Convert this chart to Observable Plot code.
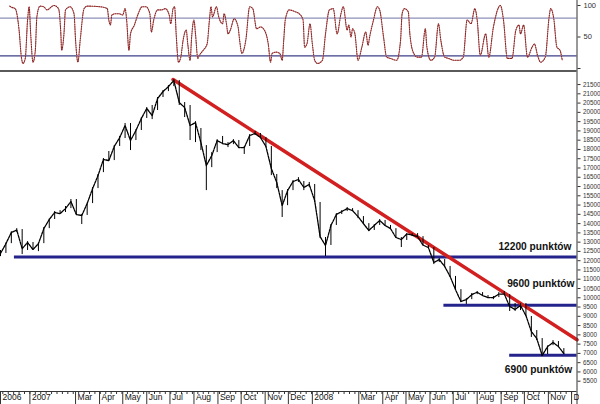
<!DOCTYPE html>
<html><head><meta charset="utf-8">
<script src="https://cdn.jsdelivr.net/npm/d3@7"></script>
<script src="https://cdn.jsdelivr.net/npm/@observablehq/plot@0.6"></script>
<style>
body{margin:0;background:#fff;}
#chart svg{display:block;}
</style></head><body>
<div id="chart"></div>
<script>
// ---- price (weekly samples) ----
const weekDates = ["2006-11-24","2006-12-01","2006-12-08","2006-12-15","2006-12-22","2006-12-29",
"2007-01-05","2007-01-12","2007-01-19","2007-01-26","2007-02-02","2007-02-09","2007-02-16","2007-02-23",
"2007-03-02","2007-03-09","2007-03-16","2007-03-23","2007-03-30","2007-04-06","2007-04-13","2007-04-20","2007-04-27",
"2007-05-04","2007-05-11","2007-05-18","2007-05-25","2007-06-01","2007-06-08","2007-06-15","2007-06-22","2007-06-29",
"2007-07-06","2007-07-13","2007-07-20","2007-07-27","2007-08-03","2007-08-10","2007-08-17","2007-08-24","2007-08-31",
"2007-09-07","2007-09-14","2007-09-21","2007-09-28","2007-10-05","2007-10-12","2007-10-19","2007-10-26",
"2007-11-02","2007-11-09","2007-11-16","2007-11-23","2007-11-30","2007-12-07","2007-12-14","2007-12-21","2007-12-28",
"2008-01-04","2008-01-11","2008-01-18","2008-01-25","2008-02-01","2008-02-08","2008-02-15","2008-02-22","2008-02-29",
"2008-03-07","2008-03-14","2008-03-21","2008-03-28","2008-04-04","2008-04-11","2008-04-18","2008-04-25",
"2008-05-02","2008-05-09","2008-05-16","2008-05-23","2008-05-30","2008-06-06","2008-06-13","2008-06-20","2008-06-27",
"2008-07-04","2008-07-11","2008-07-18","2008-07-25","2008-08-01","2008-08-08","2008-08-15","2008-08-22","2008-08-29",
"2008-09-05","2008-09-12","2008-09-19","2008-09-26","2008-10-03","2008-10-10","2008-10-17","2008-10-24","2008-10-31",
"2008-11-07","2008-11-14","2008-11-21"];
const closeValues = [12390,12920,13520,13650,12650,12980,12600,12920,13730,14220,14600,14540,14810,15190,
14490,14440,15080,15890,16590,17460,17400,18160,18640,19290,18480,19020,19670,20210,19830,20750,21120,21390,
21720,20530,20260,19290,19450,18370,17130,17670,18480,18320,18260,18480,18100,18100,18750,18860,18640,
18160,16970,16220,14970,15780,16270,16380,15950,16110,15240,13300,12820,13900,14490,14650,14810,14700,14380,
14000,13630,13900,14170,13900,13730,13250,13140,13440,13380,13300,12840,12710,11900,12060,11690,11150,
10440,9800,9900,10170,10300,10120,10010,10010,10200,10200,9530,9370,9580,9040,8180,7800,6890,7370,7590,7370,6990];
const highValues = [12550,12950,13560,13730,13680,13030,12980,12950,13790,14250,14650,14700,14920,15300,
15300,14490,15100,15950,16650,17510,17890,18210,18700,19400,19400,19070,19720,20260,20370,20800,21180,21450,
21770,21720,20530,20370,19500,19130,18210,17830,18530,18700,18370,18530,18480,18160,18800,18970,18860,
18640,18160,16650,15780,15840,16320,16480,16270,16220,16110,15140,13250,13950,14540,14700,14870,14810,14700,
14380,14000,13950,14220,14170,13900,13730,13250,13460,13460,13460,13300,12820,12710,12120,12060,11690,
11150,10440,9950,10230,10340,10280,10120,10070,10280,10340,10170,9690,9690,9690,8990,8230,7800,7400,7690,7640,7260];
const lowValues = [12220,12390,12920,13520,12330,12550,12550,12490,12920,13730,14220,14490,14600,14810,
14490,13950,14440,15080,15890,16750,17350,17400,18160,18590,17940,18480,19020,19670,19610,20100,20800,21120,
21390,20370,19720,18480,18370,17940,15780,17020,17830,18260,18100,18260,18050,17730,18160,18750,18590,
18100,16590,15890,14330,14970,15780,16220,15780,15950,15140,13200,12220,12820,13900,14490,14650,14650,14270,
13950,13570,13630,13900,13840,13680,13200,12710,13090,13300,13250,12820,12660,11790,11900,11630,11090,
10390,9740,9640,9900,10170,10070,9960,9900,10010,10120,9260,9260,9310,8990,7860,7690,6830,6940,7420,7320,6940];

// ---- oscillator (0-100) ----
const oscDates = ["2006-12-06","2006-12-07","2006-12-13","2006-12-18","2006-12-21","2006-12-23","2006-12-26","2006-12-29","2006-12-31",
"2007-01-02","2007-01-05","2007-01-08","2007-01-10","2007-01-14","2007-01-19","2007-01-23","2007-02-01","2007-02-07","2007-02-10","2007-02-11",
"2007-02-14","2007-02-16","2007-02-22","2007-02-27","2007-03-01","2007-03-04","2007-03-07","2007-03-12","2007-03-16","2007-04-02",
"2007-04-11","2007-04-13","2007-04-15","2007-04-17","2007-04-22","2007-04-26","2007-05-01","2007-05-04","2007-05-06","2007-05-09",
"2007-05-11","2007-05-16","2007-05-21","2007-05-26","2007-05-31","2007-06-05","2007-06-07","2007-06-10","2007-06-15","2007-06-20",
"2007-06-25","2007-06-30","2007-07-02","2007-07-05","2007-07-07","2007-07-09","2007-07-12","2007-07-15","2007-07-18","2007-07-22",
"2007-07-24","2007-07-27","2007-07-29","2007-08-01","2007-08-03","2007-08-06","2007-08-08","2007-08-13","2007-08-18","2007-08-21",
"2007-08-23","2007-08-25","2007-08-30","2007-09-02","2007-09-07","2007-09-09","2007-09-12","2007-09-14","2007-09-17","2007-09-22",
"2007-09-27","2007-09-29","2007-10-02","2007-10-07","2007-10-12","2007-10-16","2007-10-21","2007-10-26","2007-10-31","2007-11-05",
"2007-11-08","2007-11-10","2007-11-15","2007-11-20","2007-11-23","2007-11-25","2007-11-27","2007-12-02","2007-12-10","2007-12-15",
"2007-12-20","2007-12-22","2007-12-25","2007-12-29","2008-01-01","2008-01-04","2008-01-08","2008-01-14","2008-01-18","2008-01-23",
"2008-01-28","2008-02-02","2008-02-07","2008-02-10","2008-02-15","2008-02-17","2008-02-20","2008-02-22","2008-02-25","2008-02-29",
"2008-03-05","2008-03-10","2008-03-13","2008-03-15","2008-03-20","2008-03-25","2008-03-28","2008-04-02","2008-04-06","2008-04-11",
"2008-04-19","2008-04-24","2008-04-26","2008-04-29","2008-05-04","2008-05-06","2008-05-11","2008-05-16","2008-05-21","2008-05-26",
"2008-05-28","2008-06-02","2008-06-07","2008-06-12","2008-06-15","2008-06-20","2008-06-25","2008-07-02","2008-07-09","2008-07-14",
"2008-07-19","2008-07-24","2008-07-29","2008-08-01","2008-08-05","2008-08-12","2008-08-16","2008-08-22","2008-08-31","2008-09-04",
"2008-09-09","2008-09-15","2008-09-20","2008-09-24","2008-09-26","2008-09-30","2008-10-05","2008-10-11","2008-10-14","2008-10-18",
"2008-10-22","2008-10-28","2008-11-02","2008-11-04","2008-11-08","2008-11-12","2008-11-16","2008-11-19"];
const oscValues = [99,98,95,61,18,8,16,77,98,
55,10,29,82,99,98,93,100,95,55,29,
55,93,98,87,45,10,45,95,99,98,
95,77,69,85,87,87,85,95,77,29,
55,69,87,98,98,87,58,77,93,93,
95,85,71,95,98,55,10,18,45,61,
39,13,50,77,55,16,21,29,39,77,
98,82,98,82,71,87,71,55,61,79,
66,45,24,45,98,95,63,66,61,39,
10,24,26,24,13,45,77,93,90,87,
77,34,39,71,39,13,8,13,55,93,
95,55,87,98,61,69,50,63,55,13,
34,58,37,50,77,98,93,50,18,16,
13,45,87,95,90,55,24,18,18,63,
34,13,18,71,45,18,16,13,13,18,
77,71,95,77,21,55,18,66,100,77,
16,16,61,69,55,69,18,34,39,21,
10,18,82,95,79,34,29,13];
const oscLevels = [80, 20];
const oscTicks = [0, 50, 100];
const oscTickLabels = ["", "50", "100"];

// ---- support levels, trend line, labels ----
const levelValues = [12200, 9600, 6900];
const levelStarts = ["2006-12-12", "2008-06-19", "2008-09-12"];
const levelLabels = ["12200 punktów", "9600 punktów", "6900 punktów"];
const trendDates = ["2007-07-05", "2008-12-08"];
const trendValues = [21770, 7740];

// ---- axes ----
const xStart = "2006-11-24", xEnd = "2008-12-08";
const monthTickDates = ["2006-11-24","2007-01-01","2007-03-01","2007-04-01","2007-05-01","2007-06-01","2007-07-01",
"2007-08-01","2007-09-01","2007-10-01","2007-11-01","2007-12-01","2008-01-01","2008-03-01","2008-04-01","2008-05-01",
"2008-06-01","2008-07-01","2008-08-01","2008-09-01","2008-10-01","2008-11-01","2008-12-01"];
const monthTickLabels = ["2006","2007","Mar","Apr","May","Jun","Jul","Aug","Sep","Oct","Nov","Dec","2008",
"Mar","Apr","May","Jun","Jul","Aug","Sep","Oct","Nov","Dec"];
const priceTicks = [5500,6000,6500,7000,7500,8000,8500,9000,9500,10000,10500,11000,11500,12000,12500,13000,
13500,14000,14500,15000,15500,16000,16500,17000,17500,18000,18500,19000,19500,20000,20500,21000,21500];
const priceDomain = [4945, 22150];

// ---- build tables ----
const P = s => new Date(s);
const xDomain = [P(xStart), P(xEnd)];
const weekly = weekDates.map((d, i) => ({date: P(d), close: closeValues[i], high: highValues[i], low: lowValues[i]}));
const osc = oscDates.map((d, i) => ({date: P(d), v: oscValues[i]}));
const levels = levelValues.map((v, i) => ({value: v, start: P(levelStarts[i]), end: P(xEnd), label: levelLabels[i]}));
const trend = trendDates.map((d, i) => ({date: P(d), value: trendValues[i]}));
const months = monthTickDates.map((d, i) => ({date: P(d), label: monthTickLabels[i]}));
const oscTickMap = new Map(oscTicks.map((t, i) => [t, oscTickLabels[i]]));
const mondays = d3.utcMonday.range(xDomain[0], xDomain[1]);

const font = "'Liberation Sans', Arial, sans-serif";
const axisColor = "#333";

const oscPlot = Plot.plot({
  width: 600, height: 72, marginLeft: 0, marginRight: 23.5, marginTop: 5, marginBottom: 4,
  style: {fontFamily: font, background: "#fff"},
  x: {type: "utc", domain: xDomain, axis: null},
  y: {domain: [0, 100]},
  marks: [
    Plot.ruleY([oscLevels[0]], {stroke: "#8d90b8", strokeWidth: 1.3}),
    Plot.ruleY([oscLevels[1]], {stroke: "#3c3f88", strokeWidth: 1.3}),
    Plot.line(osc, {x: "date", y: "v", stroke: "#e7b3b3", strokeWidth: 1, curve: "monotone-x"}),
    Plot.line(osc, {x: "date", y: "v", stroke: "#8a2525", strokeWidth: 1.1, strokeDasharray: "1,1.3", curve: "monotone-x"}),
    Plot.ruleY([0], {dy: 2.5, stroke: "#5a5a5a", strokeWidth: 2}),
    Plot.ruleX([xDomain[1]], {stroke: axisColor, insetTop: -5, insetBottom: -4}),
    Plot.axisY(oscTicks, {anchor: "right", tickSize: 3, tickPadding: 3.5, fontSize: 7.5, label: null,
      tickFormat: d => oscTickMap.get(d) || null, stroke: axisColor, fill: "#333"})
  ]
});

const mainPlot = Plot.plot({
  width: 600, height: 332, marginLeft: 0, marginRight: 23.5, marginTop: 0, marginBottom: 13,
  style: {fontFamily: font, background: "#fff"},
  x: {type: "utc", domain: xDomain},
  y: {domain: priceDomain},
  marks: [
    Plot.ruleY(levels, {y: "value", x1: "start", x2: "end", stroke: "#23238b", strokeWidth: 3}),
    Plot.line(trend, {x: "date", y: "value", stroke: "#d21f1f", strokeWidth: 3.5}),
    Plot.ruleX(weekly, {x: "date", y1: "low", y2: "high", stroke: "#000", strokeWidth: 1}),
    Plot.line(weekly, {x: "date", y: "close", stroke: "#000", strokeWidth: 1.3, strokeDasharray: "2.5,1"}),
    Plot.text([levels[0]], {y: "value", text: "label", frameAnchor: "right", textAnchor: "end", dx: -5.5, dy: -10,
      fontSize: 10.2, fontWeight: "bold", fill: "#111"}),
    Plot.text([levels[1]], {y: "value", text: "label", frameAnchor: "right", textAnchor: "end", dx: -2.5, dy: -21,
      fontSize: 10.2, fontWeight: "bold", fill: "#111"}),
    Plot.text([levels[2]], {y: "value", text: "label", frameAnchor: "right", textAnchor: "end", dx: -4.8, dy: 14,
      fontSize: 10.2, fontWeight: "bold", fill: "#111"}),
    Plot.ruleY([priceDomain[0]], {stroke: axisColor}),
    Plot.ruleX([xDomain[1]], {stroke: axisColor, insetBottom: -13}),
    Plot.axisX(mondays, {tickSize: 3, tickFormat: () => null, label: null, stroke: axisColor}),
    Plot.axisX(months.map(d => d.date), {tickSize: 13, tickFormat: () => null, label: null, stroke: axisColor}),
    Plot.text(months, {x: "date", text: "label", frameAnchor: "bottom", textAnchor: "start", lineAnchor: "top",
      dx: 2, dy: 2.5, fontSize: 8.5, fill: "#111"}),
    Plot.axisY(priceTicks, {anchor: "right", tickSize: 3, tickPadding: 3, fontSize: 6.3, label: null,
      tickFormat: d => String(d), stroke: axisColor, fill: "#333"})
  ]
});

// the last month label is cut off at the right edge of the plot area, as in the reference
(function clipLastLabel() {
  const ns = "http://www.w3.org/2000/svg";
  const xr = mainPlot.scale("x").range;
  const last = [...mainPlot.querySelectorAll("text")]
    .filter(t => t.textContent === monthTickLabels[monthTickLabels.length - 1]).pop();
  if (!last) return;
  const defs = document.createElementNS(ns, "defs");
  const cp = document.createElementNS(ns, "clipPath");
  cp.setAttribute("id", "month-clip");
  const r = document.createElementNS(ns, "rect");
  r.setAttribute("x", -1000); r.setAttribute("y", -1000);
  r.setAttribute("width", 1000 + xr[1]); r.setAttribute("height", 3000);
  cp.appendChild(r); defs.appendChild(cp); mainPlot.insertBefore(defs, mainPlot.firstChild);
  const g = document.createElementNS(ns, "g");
  g.setAttribute("clip-path", "url(#month-clip)");
  last.parentNode.insertBefore(g, last);
  g.appendChild(last);
})();

const chart = document.getElementById("chart");
chart.appendChild(oscPlot);
chart.appendChild(mainPlot);
</script>
</body></html>
